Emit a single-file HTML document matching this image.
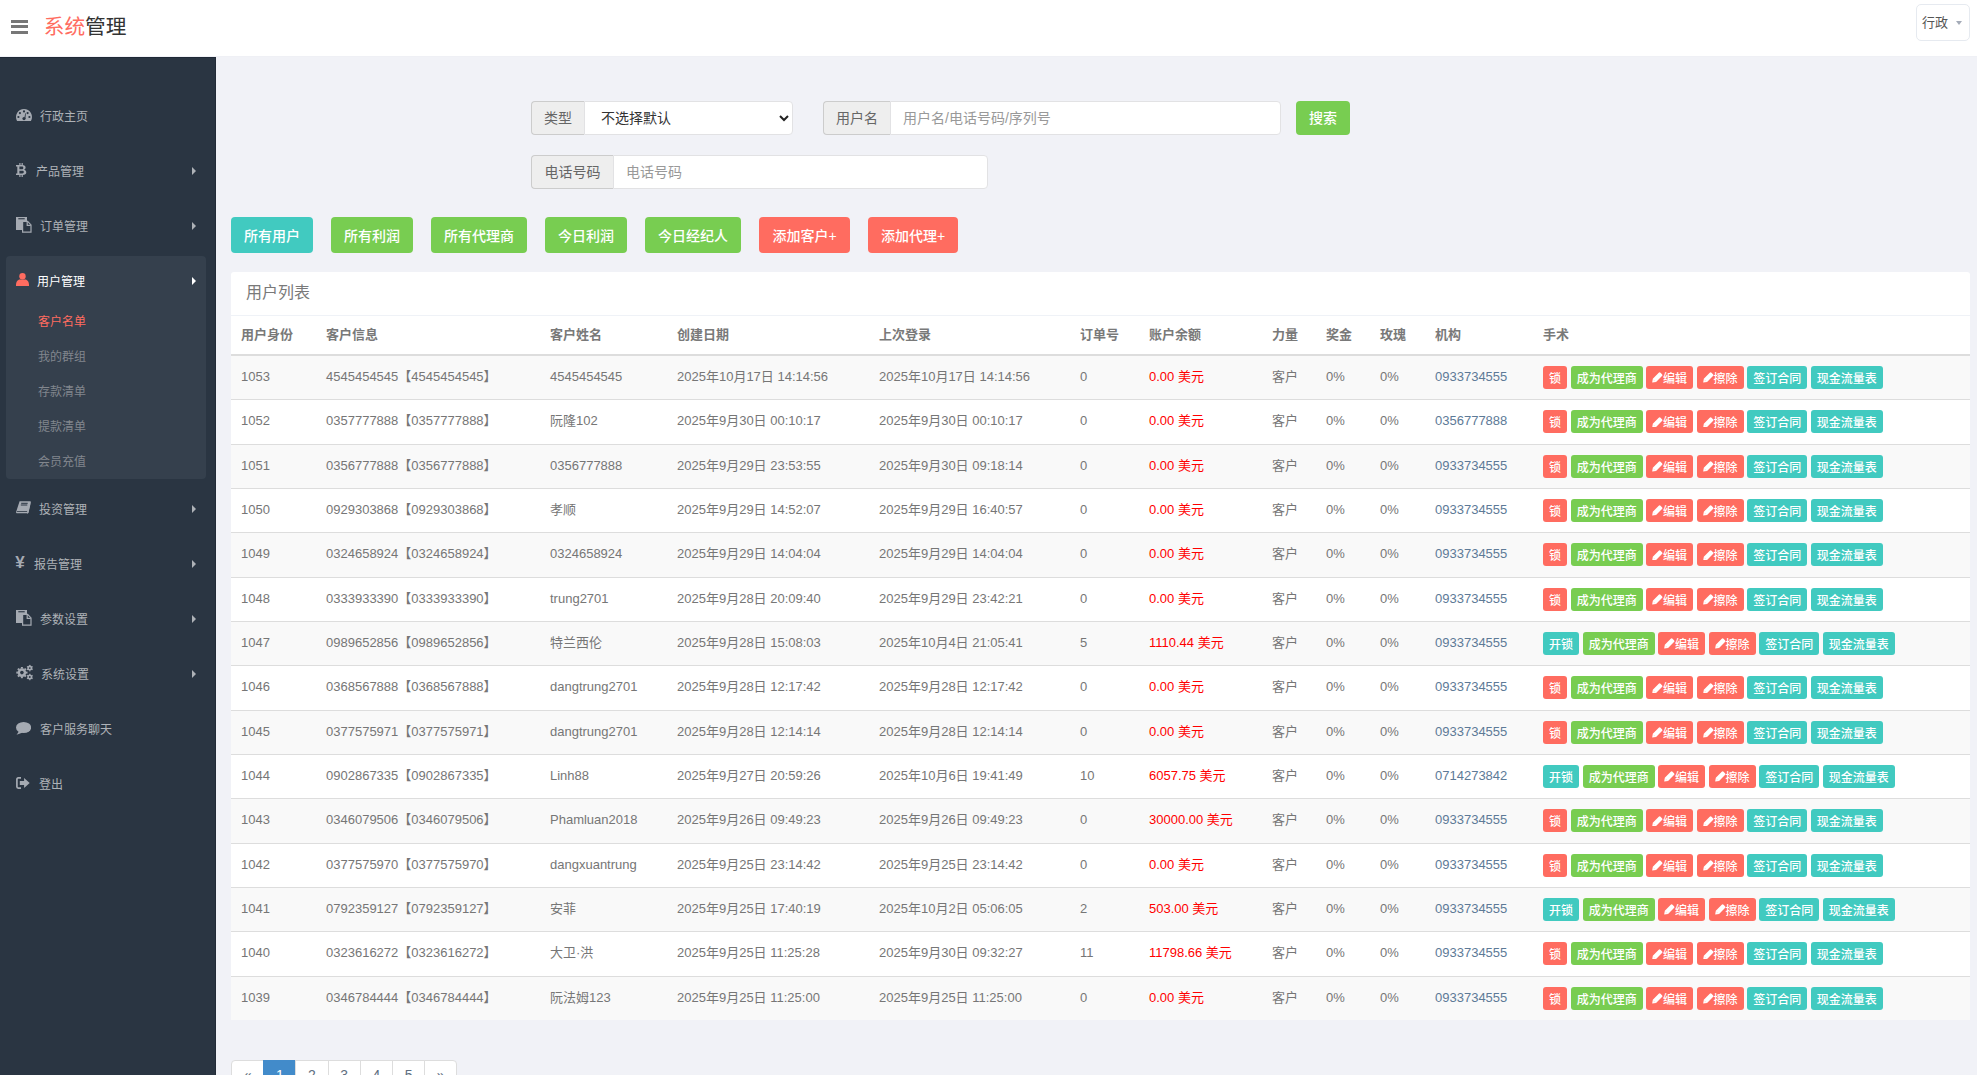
<!DOCTYPE html>
<html lang="zh-CN">
<head>
<meta charset="utf-8">
<title>系统管理</title>
<style>
*{box-sizing:border-box;margin:0;padding:0}
html,body{width:1977px;height:1075px;overflow:hidden}
body{position:relative;background:#f1f2f7;font-family:"Liberation Sans","Noto Sans CJK SC",sans-serif;font-size:13px;color:#797979}
#hd{position:absolute;left:0;top:0;width:1977px;height:56px;background:#fff}
#hdl{position:absolute;left:216px;top:56px;width:1761px;height:1px;background:#eff0f5}
.bar{position:absolute;left:11px;width:17px;height:3px;background:#777}
#logo{position:absolute;left:43.7px;top:12.8px;font-size:20.7px;line-height:28px;color:#333;white-space:nowrap}
#logo span{color:#ff6c60}
#usr{position:absolute;left:1916px;top:4px;width:54px;height:37px;border:1px solid #e6eaf0;border-radius:5px;background:#fff}
#usr .t{position:absolute;left:5px;top:9px;font-size:13px;line-height:18px;color:#555}
#usr .c{position:absolute;left:38.5px;top:16px;width:0;height:0;border-left:3.5px solid transparent;border-right:3.5px solid transparent;border-top:4px solid #a4abb8}

#sb{position:absolute;left:0;top:57px;width:216px;height:1018px;background:#2a3542;border-right:1px solid #222b37}
#sbt{position:absolute;left:0;top:57px;width:216px;height:1px;background:#1f2936}
#act{position:absolute;left:6px;top:256px;width:200px;height:223px;background:#35404d;border-radius:4px}
.it{position:absolute;left:0;width:216px;height:20px;line-height:20px;font-size:12px;color:#aeb2b7;white-space:nowrap}
.it .tx{position:absolute;top:0}
.ic{position:absolute}
.it .ar{position:absolute;left:192px;top:5px;width:0;height:0;border-top:4px solid transparent;border-bottom:4px solid transparent;border-left:4px solid #aeb2b7}
.sub{position:absolute;left:38px;height:20px;line-height:20px;font-size:12px;color:#81868d;white-space:nowrap}

.ig{position:absolute;height:34px}
.ig .ad{position:absolute;left:0;top:0;height:34px;border:1px solid #ccc;border-right:0;background:#eee;border-radius:4px 0 0 4px;font-size:14px;line-height:32px;color:#666;text-align:center}
.ig .fc{position:absolute;top:0;height:34px;border:1px solid #e2e2e4;background:#fff;border-radius:0 4px 4px 0;font-size:14px;line-height:32px;color:#333;padding-left:12px;white-space:nowrap}
.ig .ph{color:#999}
.btn{position:absolute;height:36px;line-height:34px;padding-top:2px;border-radius:4px;color:#fff;font-size:14px;font-weight:500;text-align:center;white-space:nowrap}
.g{background:#78cd51}.tq{background:#41cac0}.r{background:#ff6c60}

#pn{position:absolute;left:231px;top:272px;width:1739px;height:748px;background:#fff;border-radius:3px}
#ph{position:absolute;left:0;top:0;width:1739px;height:44px;border-bottom:1px solid #eff2f7;font-size:16px;line-height:24px;color:#797979;padding:9px 0 0 15px}
table{position:absolute;left:0;top:44px;width:1739px;border-collapse:collapse;table-layout:fixed}
th{height:39px;line-height:18px;text-align:left;font-weight:bold;font-size:13px;color:#797979;border-bottom:2px solid #ddd;padding:0 0 0 10px;vertical-align:middle;white-space:nowrap}
td{height:44.33px;line-height:18px;padding:0 0 1px 10px;border-top:1px solid #ddd;vertical-align:middle;white-space:nowrap;color:#767676;font-size:13px}
tbody tr:first-child td{border-top:0;height:44.8px}
tr.odd td{background:#f9f9f9}
td.red{color:#ff0000}
td.ac{padding-bottom:0}
td.lk{color:#5d7a97}
.b{display:inline-block;height:23px;line-height:18px;padding:3px 5px 0;border:1px solid transparent;border-radius:3px;color:#fff;font-size:12px;font-weight:500;vertical-align:middle}
.bd{background:#ff6c60}.bs{background:#78cd51}.bi{background:#41cac0}
.pc{display:inline-block;vertical-align:0px}

#pg{position:absolute;left:231px;top:1060px;height:40px;display:flex}
#pg div{width:33.2px;height:34px;border:1px solid #ddd;margin-left:-1px;background:#fff;text-align:center;line-height:28px;font-size:14px;color:#5e6e80}
#pg div:first-child{margin-left:0;border-radius:4px 0 0 4px}
#pg div:last-child{border-radius:0 4px 4px 0}
#pg div.on{background:#428bca;border-color:#428bca;color:#fff}
</style>
</head>
<body>
<div id="hd">
  <div class="bar" style="top:20px"></div>
  <div class="bar" style="top:25.3px;height:2.8px"></div>
  <div class="bar" style="top:31px"></div>
  <div id="logo"><span>系统</span>管理</div>
  <div id="usr"><span class="t">行政</span><span class="c"></span></div>
</div>
<div id="hdl"></div>

<div id="sb"></div>
<div id="sbt"></div>
<div id="act"></div>

<!-- sidebar items -->
<svg class="ic" style="left:15.7px;top:108.9px" width="16" height="12" viewBox="0 0 16 12"><path d="M1.07 12A8 8 0 1 1 14.93 12Z" fill="#a5aab2"/><g fill="#2a3542"><circle cx="3.9" cy="4.1" r="1.1"/><circle cx="2.4" cy="8" r="1.1"/><circle cx="8" cy="2.4" r="1.1"/><circle cx="11.6" cy="4.1" r="1.1"/><circle cx="13.4" cy="8" r="1.1"/><path d="M8.3 9.6L9.3 4.2L9.9 4.3L9.3 9.8Z"/><circle cx="8" cy="9.6" r="1.6"/></g></svg>
<div class="it" style="top:107px"><span class="tx" style="left:40px">行政主页</span></div>
<svg class="ic" style="left:16px;top:163px" width="11" height="14" viewBox="0 0 11 14"><path fill-rule="evenodd" fill="#a5aab2" d="M0 2h6.4c2 0 3.2 1 3.2 2.6 0 1-.6 1.8-1.5 2.1 1.3.3 2.2 1.2 2.2 2.6 0 1.8-1.4 2.8-3.5 2.8H0v-1.5h1.3V3.5H0z M3.4 3.6h2.5c.9 0 1.4.5 1.4 1.3s-.5 1.3-1.4 1.3H3.4z M3.4 7.7h2.9c1 0 1.5.5 1.5 1.4s-.5 1.4-1.5 1.4H3.4z"/><path d="M3.3 0h1.2v2.2H3.3zM5.6 0h1.2v2.2H5.6zM3.3 11.8h1.2V14H3.3zM5.6 11.8h1.2V14H5.6z" fill="#a5aab2"/></svg>
<div class="it" style="top:162px"><span class="tx" style="left:36px">产品管理</span><span class="ar"></span></div>
<svg class="ic" style="left:15.7px;top:216.9px" width="16" height="16" viewBox="0 0 16 16"><path d="M0 0h11v13h-11z" fill="#a5aab2"/><path d="M2.3 1.2h6.4v1.1h-6.4z" fill="#2a3542"/><path d="M6.6 4.4h5l3.4 3.5v7.3h-8.4z" fill="#2a3542" stroke="#a5aab2" stroke-width="1.2"/><path d="M11.2 4.6v3.8h3.6" fill="none" stroke="#a5aab2" stroke-width="1.2"/></svg>
<div class="it" style="top:217px"><span class="tx" style="left:40px">订单管理</span><span class="ar"></span></div>
<svg class="ic" style="left:16px;top:273px" width="13" height="13" viewBox="0 0 13 13"><circle cx="6.5" cy="3.3" r="3.2" fill="#ff6c60"/><path d="M0 12C0 8.6 1.8 6.4 3.8 6.4h5.4c2 0 3.8 2.2 3.8 5.6v1H0z" fill="#ff6c60"/></svg>
<div class="it" style="top:272px;color:#fff"><span class="tx" style="left:37px">用户管理</span><span class="ar" style="border-left-color:#fff"></span></div>
<div class="sub" style="top:312px;color:#ff6c60">客户名单</div>
<div class="sub" style="top:347px">我的群组</div>
<div class="sub" style="top:382px">存款清单</div>
<div class="sub" style="top:417px">提款清单</div>
<div class="sub" style="top:452px">会员充值</div>
<svg class="ic" style="left:16px;top:501px" width="15" height="13" viewBox="0 0 15 13"><path d="M3.6 0.3h10.6c.5 0 .8.4.7.9l-2.3 10.2c-.1.5-.5.8-1 .8H1.1c-.7 0-1.2-.6-1-1.3z" fill="#a5aab2"/><path d="M5.2 2.3h6.5M4.8 4h6.5" stroke="#2a3542" stroke-width="1"/><path d="M0.9 10.5h10.3" stroke="#2a3542" stroke-width="0.8"/><path d="M13.9 2.5l-2.3 10" stroke="#a5aab2" stroke-width="1"/></svg>
<div class="it" style="top:500px"><span class="tx" style="left:39px">投资管理</span><span class="ar"></span></div>
<span class="ic" style="left:15.2px;top:553px;font:bold 17px/20px 'Liberation Sans',sans-serif;color:#a5aab2">&yen;</span>
<div class="it" style="top:555px"><span class="tx" style="left:34px">报告管理</span><span class="ar"></span></div>
<svg class="ic" style="left:15.7px;top:610px" width="16" height="16" viewBox="0 0 16 16"><path d="M0 0h11v13h-11z" fill="#a5aab2"/><path d="M2.3 1.2h6.4v1.1h-6.4z" fill="#2a3542"/><path d="M6.6 4.4h5l3.4 3.5v7.3h-8.4z" fill="#2a3542" stroke="#a5aab2" stroke-width="1.2"/><path d="M11.2 4.6v3.8h3.6" fill="none" stroke="#a5aab2" stroke-width="1.2"/></svg>
<div class="it" style="top:610px"><span class="tx" style="left:40px">参数设置</span><span class="ar"></span></div>
<svg class="ic" style="left:15.5px;top:664px" width="17" height="17" viewBox="0 0 17 17"><circle cx="5.9" cy="8.6" r="4.3" fill="#a5aab2"/><rect x="4.9" y="2.9999999999999996" width="2.0" height="1.6" fill="#a5aab2" transform="rotate(0.0 5.9 8.6)"/><rect x="4.9" y="2.9999999999999996" width="2.0" height="1.6" fill="#a5aab2" transform="rotate(45.0 5.9 8.6)"/><rect x="4.9" y="2.9999999999999996" width="2.0" height="1.6" fill="#a5aab2" transform="rotate(90.0 5.9 8.6)"/><rect x="4.9" y="2.9999999999999996" width="2.0" height="1.6" fill="#a5aab2" transform="rotate(135.0 5.9 8.6)"/><rect x="4.9" y="2.9999999999999996" width="2.0" height="1.6" fill="#a5aab2" transform="rotate(180.0 5.9 8.6)"/><rect x="4.9" y="2.9999999999999996" width="2.0" height="1.6" fill="#a5aab2" transform="rotate(225.0 5.9 8.6)"/><rect x="4.9" y="2.9999999999999996" width="2.0" height="1.6" fill="#a5aab2" transform="rotate(270.0 5.9 8.6)"/><rect x="4.9" y="2.9999999999999996" width="2.0" height="1.6" fill="#a5aab2" transform="rotate(315.0 5.9 8.6)"/><circle cx="5.9" cy="8.6" r="1.8" fill="#2a3542"/><circle cx="13.8" cy="4.1" r="2.5" fill="#a5aab2"/><rect x="13.100000000000001" y="0.8999999999999997" width="1.4" height="1.0" fill="#a5aab2" transform="rotate(0.0 13.8 4.1)"/><rect x="13.100000000000001" y="0.8999999999999997" width="1.4" height="1.0" fill="#a5aab2" transform="rotate(60.0 13.8 4.1)"/><rect x="13.100000000000001" y="0.8999999999999997" width="1.4" height="1.0" fill="#a5aab2" transform="rotate(120.0 13.8 4.1)"/><rect x="13.100000000000001" y="0.8999999999999997" width="1.4" height="1.0" fill="#a5aab2" transform="rotate(180.0 13.8 4.1)"/><rect x="13.100000000000001" y="0.8999999999999997" width="1.4" height="1.0" fill="#a5aab2" transform="rotate(240.0 13.8 4.1)"/><rect x="13.100000000000001" y="0.8999999999999997" width="1.4" height="1.0" fill="#a5aab2" transform="rotate(300.0 13.8 4.1)"/><circle cx="13.8" cy="4.1" r="0.9" fill="#2a3542"/><circle cx="13.8" cy="13.0" r="2.5" fill="#a5aab2"/><rect x="13.100000000000001" y="9.8" width="1.4" height="1.0" fill="#a5aab2" transform="rotate(0.0 13.8 13.0)"/><rect x="13.100000000000001" y="9.8" width="1.4" height="1.0" fill="#a5aab2" transform="rotate(60.0 13.8 13.0)"/><rect x="13.100000000000001" y="9.8" width="1.4" height="1.0" fill="#a5aab2" transform="rotate(120.0 13.8 13.0)"/><rect x="13.100000000000001" y="9.8" width="1.4" height="1.0" fill="#a5aab2" transform="rotate(180.0 13.8 13.0)"/><rect x="13.100000000000001" y="9.8" width="1.4" height="1.0" fill="#a5aab2" transform="rotate(240.0 13.8 13.0)"/><rect x="13.100000000000001" y="9.8" width="1.4" height="1.0" fill="#a5aab2" transform="rotate(300.0 13.8 13.0)"/><circle cx="13.8" cy="13.0" r="0.9" fill="#2a3542"/></svg>
<div class="it" style="top:665px"><span class="tx" style="left:41px">系统设置</span><span class="ar"></span></div>
<svg class="ic" style="left:16px;top:722px" width="15.2" height="13" viewBox="0 0 15.2 13"><ellipse cx="7.6" cy="5.5" rx="7.6" ry="5.5" fill="#a5aab2"/><path d="M3 9.3L0.6 12.7L6.8 10.6z" fill="#a5aab2"/></svg>
<div class="it" style="top:720px"><span class="tx" style="left:40px">客户服务聊天</span></div>
<svg class="ic" style="left:16px;top:776.8px" width="14" height="12" viewBox="0 0 14 12"><path d="M5 0.9H2.2c-.8 0-1.3.5-1.3 1.3v7.6c0 .8.5 1.3 1.3 1.3H5" fill="none" stroke="#a5aab2" stroke-width="1.7"/><path d="M3.8 3.9h4.3V1.1l5.6 4.9-5.6 4.9V8.1H3.8z" fill="#a5aab2"/></svg>
<div class="it" style="top:775px"><span class="tx" style="left:39px">登出</span></div>

<!-- search form -->
<div class="ig" style="left:531px;top:101px;width:262px">
  <div class="ad" style="width:53px">类型</div>
  <div class="fc" style="left:53px;width:209px;padding-left:16px">不选择默认<svg style="position:absolute;right:3px;top:13px" width="10" height="7" viewBox="0 0 10 7"><path d="M1 1l4 4 4-4" fill="none" stroke="#222" stroke-width="2"/></svg></div>
</div>
<div class="ig" style="left:823px;top:101px;width:458px">
  <div class="ad" style="width:67px">用户名</div>
  <div class="fc ph" style="left:67px;width:391px">用户名/电话号码/序列号</div>
</div>
<div class="btn g" style="left:1296px;top:101px;width:54px;height:34px;line-height:34px;padding-top:0">搜索</div>
<div class="ig" style="left:531px;top:155px;width:457px">
  <div class="ad" style="width:82px">电话号码</div>
  <div class="fc ph" style="left:82px;width:375px">电话号码</div>
</div>

<div class="btn tq" style="left:231px;top:217px;width:82px">所有用户</div>
<div class="btn g" style="left:331px;top:217px;width:82px">所有利润</div>
<div class="btn g" style="left:431px;top:217px;width:96px">所有代理商</div>
<div class="btn g" style="left:545px;top:217px;width:82px">今日利润</div>
<div class="btn g" style="left:645px;top:217px;width:96px">今日经纪人</div>
<div class="btn r" style="left:759px;top:217px;width:91px">添加客户+</div>
<div class="btn r" style="left:868px;top:217px;width:90px">添加代理+</div>

<div id="pn">
  <div id="ph">用户列表</div>
  <table>
    <colgroup><col style="width:85px"><col style="width:224px"><col style="width:127px"><col style="width:202px"><col style="width:201px"><col style="width:69px"><col style="width:123px"><col style="width:54px"><col style="width:54px"><col style="width:55px"><col style="width:108px"><col></colgroup>
    <thead><tr><th>用户身份</th><th>客户信息</th><th>客户姓名</th><th>创建日期</th><th>上次登录</th><th>订单号</th><th>账户余额</th><th>力量</th><th>奖金</th><th>玫瑰</th><th>机构</th><th>手术</th></tr></thead>
    <tbody>
<tr class="odd"><td>1053</td><td>4545454545【4545454545】</td><td>4545454545</td><td>2025年10月17日 14:14:56</td><td>2025年10月17日 14:14:56</td><td>0</td><td class="red">0.00 美元</td><td>客户</td><td>0%</td><td>0%</td><td class="lk">0933734555</td><td class="ac"><span class="b bd">锁</span> <span class="b bs">成为代理商</span> <span class="b bd e"><svg class="pc" viewBox="0 0 12 12" width="10.8" height="10.8"><path d="M0.2 11.8L0.9 7.5L7.5 0.9Q8.5 -0.1 9.5 0.9L11.1 2.5Q12.1 3.5 11.1 4.5L4.5 11.1Z" fill="#fff"/><path d="M1.6 8.6L3.4 10.4" stroke="#ff6c60" stroke-width="0.5" opacity="0.5"/></svg>编辑</span> <span class="b bd e"><svg class="pc" viewBox="0 0 12 12" width="10.8" height="10.8"><path d="M0.2 11.8L0.9 7.5L7.5 0.9Q8.5 -0.1 9.5 0.9L11.1 2.5Q12.1 3.5 11.1 4.5L4.5 11.1Z" fill="#fff"/><path d="M1.6 8.6L3.4 10.4" stroke="#ff6c60" stroke-width="0.5" opacity="0.5"/></svg>擦除</span> <span class="b bi">签订合同</span> <span class="b bi">现金流量表</span></td></tr>
<tr><td>1052</td><td>0357777888【0357777888】</td><td>阮隆102</td><td>2025年9月30日 00:10:17</td><td>2025年9月30日 00:10:17</td><td>0</td><td class="red">0.00 美元</td><td>客户</td><td>0%</td><td>0%</td><td class="lk">0356777888</td><td class="ac"><span class="b bd">锁</span> <span class="b bs">成为代理商</span> <span class="b bd e"><svg class="pc" viewBox="0 0 12 12" width="10.8" height="10.8"><path d="M0.2 11.8L0.9 7.5L7.5 0.9Q8.5 -0.1 9.5 0.9L11.1 2.5Q12.1 3.5 11.1 4.5L4.5 11.1Z" fill="#fff"/><path d="M1.6 8.6L3.4 10.4" stroke="#ff6c60" stroke-width="0.5" opacity="0.5"/></svg>编辑</span> <span class="b bd e"><svg class="pc" viewBox="0 0 12 12" width="10.8" height="10.8"><path d="M0.2 11.8L0.9 7.5L7.5 0.9Q8.5 -0.1 9.5 0.9L11.1 2.5Q12.1 3.5 11.1 4.5L4.5 11.1Z" fill="#fff"/><path d="M1.6 8.6L3.4 10.4" stroke="#ff6c60" stroke-width="0.5" opacity="0.5"/></svg>擦除</span> <span class="b bi">签订合同</span> <span class="b bi">现金流量表</span></td></tr>
<tr class="odd"><td>1051</td><td>0356777888【0356777888】</td><td>0356777888</td><td>2025年9月29日 23:53:55</td><td>2025年9月30日 09:18:14</td><td>0</td><td class="red">0.00 美元</td><td>客户</td><td>0%</td><td>0%</td><td class="lk">0933734555</td><td class="ac"><span class="b bd">锁</span> <span class="b bs">成为代理商</span> <span class="b bd e"><svg class="pc" viewBox="0 0 12 12" width="10.8" height="10.8"><path d="M0.2 11.8L0.9 7.5L7.5 0.9Q8.5 -0.1 9.5 0.9L11.1 2.5Q12.1 3.5 11.1 4.5L4.5 11.1Z" fill="#fff"/><path d="M1.6 8.6L3.4 10.4" stroke="#ff6c60" stroke-width="0.5" opacity="0.5"/></svg>编辑</span> <span class="b bd e"><svg class="pc" viewBox="0 0 12 12" width="10.8" height="10.8"><path d="M0.2 11.8L0.9 7.5L7.5 0.9Q8.5 -0.1 9.5 0.9L11.1 2.5Q12.1 3.5 11.1 4.5L4.5 11.1Z" fill="#fff"/><path d="M1.6 8.6L3.4 10.4" stroke="#ff6c60" stroke-width="0.5" opacity="0.5"/></svg>擦除</span> <span class="b bi">签订合同</span> <span class="b bi">现金流量表</span></td></tr>
<tr><td>1050</td><td>0929303868【0929303868】</td><td>孝顺</td><td>2025年9月29日 14:52:07</td><td>2025年9月29日 16:40:57</td><td>0</td><td class="red">0.00 美元</td><td>客户</td><td>0%</td><td>0%</td><td class="lk">0933734555</td><td class="ac"><span class="b bd">锁</span> <span class="b bs">成为代理商</span> <span class="b bd e"><svg class="pc" viewBox="0 0 12 12" width="10.8" height="10.8"><path d="M0.2 11.8L0.9 7.5L7.5 0.9Q8.5 -0.1 9.5 0.9L11.1 2.5Q12.1 3.5 11.1 4.5L4.5 11.1Z" fill="#fff"/><path d="M1.6 8.6L3.4 10.4" stroke="#ff6c60" stroke-width="0.5" opacity="0.5"/></svg>编辑</span> <span class="b bd e"><svg class="pc" viewBox="0 0 12 12" width="10.8" height="10.8"><path d="M0.2 11.8L0.9 7.5L7.5 0.9Q8.5 -0.1 9.5 0.9L11.1 2.5Q12.1 3.5 11.1 4.5L4.5 11.1Z" fill="#fff"/><path d="M1.6 8.6L3.4 10.4" stroke="#ff6c60" stroke-width="0.5" opacity="0.5"/></svg>擦除</span> <span class="b bi">签订合同</span> <span class="b bi">现金流量表</span></td></tr>
<tr class="odd"><td>1049</td><td>0324658924【0324658924】</td><td>0324658924</td><td>2025年9月29日 14:04:04</td><td>2025年9月29日 14:04:04</td><td>0</td><td class="red">0.00 美元</td><td>客户</td><td>0%</td><td>0%</td><td class="lk">0933734555</td><td class="ac"><span class="b bd">锁</span> <span class="b bs">成为代理商</span> <span class="b bd e"><svg class="pc" viewBox="0 0 12 12" width="10.8" height="10.8"><path d="M0.2 11.8L0.9 7.5L7.5 0.9Q8.5 -0.1 9.5 0.9L11.1 2.5Q12.1 3.5 11.1 4.5L4.5 11.1Z" fill="#fff"/><path d="M1.6 8.6L3.4 10.4" stroke="#ff6c60" stroke-width="0.5" opacity="0.5"/></svg>编辑</span> <span class="b bd e"><svg class="pc" viewBox="0 0 12 12" width="10.8" height="10.8"><path d="M0.2 11.8L0.9 7.5L7.5 0.9Q8.5 -0.1 9.5 0.9L11.1 2.5Q12.1 3.5 11.1 4.5L4.5 11.1Z" fill="#fff"/><path d="M1.6 8.6L3.4 10.4" stroke="#ff6c60" stroke-width="0.5" opacity="0.5"/></svg>擦除</span> <span class="b bi">签订合同</span> <span class="b bi">现金流量表</span></td></tr>
<tr><td>1048</td><td>0333933390【0333933390】</td><td>trung2701</td><td>2025年9月28日 20:09:40</td><td>2025年9月29日 23:42:21</td><td>0</td><td class="red">0.00 美元</td><td>客户</td><td>0%</td><td>0%</td><td class="lk">0933734555</td><td class="ac"><span class="b bd">锁</span> <span class="b bs">成为代理商</span> <span class="b bd e"><svg class="pc" viewBox="0 0 12 12" width="10.8" height="10.8"><path d="M0.2 11.8L0.9 7.5L7.5 0.9Q8.5 -0.1 9.5 0.9L11.1 2.5Q12.1 3.5 11.1 4.5L4.5 11.1Z" fill="#fff"/><path d="M1.6 8.6L3.4 10.4" stroke="#ff6c60" stroke-width="0.5" opacity="0.5"/></svg>编辑</span> <span class="b bd e"><svg class="pc" viewBox="0 0 12 12" width="10.8" height="10.8"><path d="M0.2 11.8L0.9 7.5L7.5 0.9Q8.5 -0.1 9.5 0.9L11.1 2.5Q12.1 3.5 11.1 4.5L4.5 11.1Z" fill="#fff"/><path d="M1.6 8.6L3.4 10.4" stroke="#ff6c60" stroke-width="0.5" opacity="0.5"/></svg>擦除</span> <span class="b bi">签订合同</span> <span class="b bi">现金流量表</span></td></tr>
<tr class="odd"><td>1047</td><td>0989652856【0989652856】</td><td>特兰西伦</td><td>2025年9月28日 15:08:03</td><td>2025年10月4日 21:05:41</td><td>5</td><td class="red">1110.44 美元</td><td>客户</td><td>0%</td><td>0%</td><td class="lk">0933734555</td><td class="ac"><span class="b bi">开锁</span> <span class="b bs">成为代理商</span> <span class="b bd e"><svg class="pc" viewBox="0 0 12 12" width="10.8" height="10.8"><path d="M0.2 11.8L0.9 7.5L7.5 0.9Q8.5 -0.1 9.5 0.9L11.1 2.5Q12.1 3.5 11.1 4.5L4.5 11.1Z" fill="#fff"/><path d="M1.6 8.6L3.4 10.4" stroke="#ff6c60" stroke-width="0.5" opacity="0.5"/></svg>编辑</span> <span class="b bd e"><svg class="pc" viewBox="0 0 12 12" width="10.8" height="10.8"><path d="M0.2 11.8L0.9 7.5L7.5 0.9Q8.5 -0.1 9.5 0.9L11.1 2.5Q12.1 3.5 11.1 4.5L4.5 11.1Z" fill="#fff"/><path d="M1.6 8.6L3.4 10.4" stroke="#ff6c60" stroke-width="0.5" opacity="0.5"/></svg>擦除</span> <span class="b bi">签订合同</span> <span class="b bi">现金流量表</span></td></tr>
<tr><td>1046</td><td>0368567888【0368567888】</td><td>dangtrung2701</td><td>2025年9月28日 12:17:42</td><td>2025年9月28日 12:17:42</td><td>0</td><td class="red">0.00 美元</td><td>客户</td><td>0%</td><td>0%</td><td class="lk">0933734555</td><td class="ac"><span class="b bd">锁</span> <span class="b bs">成为代理商</span> <span class="b bd e"><svg class="pc" viewBox="0 0 12 12" width="10.8" height="10.8"><path d="M0.2 11.8L0.9 7.5L7.5 0.9Q8.5 -0.1 9.5 0.9L11.1 2.5Q12.1 3.5 11.1 4.5L4.5 11.1Z" fill="#fff"/><path d="M1.6 8.6L3.4 10.4" stroke="#ff6c60" stroke-width="0.5" opacity="0.5"/></svg>编辑</span> <span class="b bd e"><svg class="pc" viewBox="0 0 12 12" width="10.8" height="10.8"><path d="M0.2 11.8L0.9 7.5L7.5 0.9Q8.5 -0.1 9.5 0.9L11.1 2.5Q12.1 3.5 11.1 4.5L4.5 11.1Z" fill="#fff"/><path d="M1.6 8.6L3.4 10.4" stroke="#ff6c60" stroke-width="0.5" opacity="0.5"/></svg>擦除</span> <span class="b bi">签订合同</span> <span class="b bi">现金流量表</span></td></tr>
<tr class="odd"><td>1045</td><td>0377575971【0377575971】</td><td>dangtrung2701</td><td>2025年9月28日 12:14:14</td><td>2025年9月28日 12:14:14</td><td>0</td><td class="red">0.00 美元</td><td>客户</td><td>0%</td><td>0%</td><td class="lk">0933734555</td><td class="ac"><span class="b bd">锁</span> <span class="b bs">成为代理商</span> <span class="b bd e"><svg class="pc" viewBox="0 0 12 12" width="10.8" height="10.8"><path d="M0.2 11.8L0.9 7.5L7.5 0.9Q8.5 -0.1 9.5 0.9L11.1 2.5Q12.1 3.5 11.1 4.5L4.5 11.1Z" fill="#fff"/><path d="M1.6 8.6L3.4 10.4" stroke="#ff6c60" stroke-width="0.5" opacity="0.5"/></svg>编辑</span> <span class="b bd e"><svg class="pc" viewBox="0 0 12 12" width="10.8" height="10.8"><path d="M0.2 11.8L0.9 7.5L7.5 0.9Q8.5 -0.1 9.5 0.9L11.1 2.5Q12.1 3.5 11.1 4.5L4.5 11.1Z" fill="#fff"/><path d="M1.6 8.6L3.4 10.4" stroke="#ff6c60" stroke-width="0.5" opacity="0.5"/></svg>擦除</span> <span class="b bi">签订合同</span> <span class="b bi">现金流量表</span></td></tr>
<tr><td>1044</td><td>0902867335【0902867335】</td><td>Linh88</td><td>2025年9月27日 20:59:26</td><td>2025年10月6日 19:41:49</td><td>10</td><td class="red">6057.75 美元</td><td>客户</td><td>0%</td><td>0%</td><td class="lk">0714273842</td><td class="ac"><span class="b bi">开锁</span> <span class="b bs">成为代理商</span> <span class="b bd e"><svg class="pc" viewBox="0 0 12 12" width="10.8" height="10.8"><path d="M0.2 11.8L0.9 7.5L7.5 0.9Q8.5 -0.1 9.5 0.9L11.1 2.5Q12.1 3.5 11.1 4.5L4.5 11.1Z" fill="#fff"/><path d="M1.6 8.6L3.4 10.4" stroke="#ff6c60" stroke-width="0.5" opacity="0.5"/></svg>编辑</span> <span class="b bd e"><svg class="pc" viewBox="0 0 12 12" width="10.8" height="10.8"><path d="M0.2 11.8L0.9 7.5L7.5 0.9Q8.5 -0.1 9.5 0.9L11.1 2.5Q12.1 3.5 11.1 4.5L4.5 11.1Z" fill="#fff"/><path d="M1.6 8.6L3.4 10.4" stroke="#ff6c60" stroke-width="0.5" opacity="0.5"/></svg>擦除</span> <span class="b bi">签订合同</span> <span class="b bi">现金流量表</span></td></tr>
<tr class="odd"><td>1043</td><td>0346079506【0346079506】</td><td>Phamluan2018</td><td>2025年9月26日 09:49:23</td><td>2025年9月26日 09:49:23</td><td>0</td><td class="red">30000.00 美元</td><td>客户</td><td>0%</td><td>0%</td><td class="lk">0933734555</td><td class="ac"><span class="b bd">锁</span> <span class="b bs">成为代理商</span> <span class="b bd e"><svg class="pc" viewBox="0 0 12 12" width="10.8" height="10.8"><path d="M0.2 11.8L0.9 7.5L7.5 0.9Q8.5 -0.1 9.5 0.9L11.1 2.5Q12.1 3.5 11.1 4.5L4.5 11.1Z" fill="#fff"/><path d="M1.6 8.6L3.4 10.4" stroke="#ff6c60" stroke-width="0.5" opacity="0.5"/></svg>编辑</span> <span class="b bd e"><svg class="pc" viewBox="0 0 12 12" width="10.8" height="10.8"><path d="M0.2 11.8L0.9 7.5L7.5 0.9Q8.5 -0.1 9.5 0.9L11.1 2.5Q12.1 3.5 11.1 4.5L4.5 11.1Z" fill="#fff"/><path d="M1.6 8.6L3.4 10.4" stroke="#ff6c60" stroke-width="0.5" opacity="0.5"/></svg>擦除</span> <span class="b bi">签订合同</span> <span class="b bi">现金流量表</span></td></tr>
<tr><td>1042</td><td>0377575970【0377575970】</td><td>dangxuantrung</td><td>2025年9月25日 23:14:42</td><td>2025年9月25日 23:14:42</td><td>0</td><td class="red">0.00 美元</td><td>客户</td><td>0%</td><td>0%</td><td class="lk">0933734555</td><td class="ac"><span class="b bd">锁</span> <span class="b bs">成为代理商</span> <span class="b bd e"><svg class="pc" viewBox="0 0 12 12" width="10.8" height="10.8"><path d="M0.2 11.8L0.9 7.5L7.5 0.9Q8.5 -0.1 9.5 0.9L11.1 2.5Q12.1 3.5 11.1 4.5L4.5 11.1Z" fill="#fff"/><path d="M1.6 8.6L3.4 10.4" stroke="#ff6c60" stroke-width="0.5" opacity="0.5"/></svg>编辑</span> <span class="b bd e"><svg class="pc" viewBox="0 0 12 12" width="10.8" height="10.8"><path d="M0.2 11.8L0.9 7.5L7.5 0.9Q8.5 -0.1 9.5 0.9L11.1 2.5Q12.1 3.5 11.1 4.5L4.5 11.1Z" fill="#fff"/><path d="M1.6 8.6L3.4 10.4" stroke="#ff6c60" stroke-width="0.5" opacity="0.5"/></svg>擦除</span> <span class="b bi">签订合同</span> <span class="b bi">现金流量表</span></td></tr>
<tr class="odd"><td>1041</td><td>0792359127【0792359127】</td><td>安菲</td><td>2025年9月25日 17:40:19</td><td>2025年10月2日 05:06:05</td><td>2</td><td class="red">503.00 美元</td><td>客户</td><td>0%</td><td>0%</td><td class="lk">0933734555</td><td class="ac"><span class="b bi">开锁</span> <span class="b bs">成为代理商</span> <span class="b bd e"><svg class="pc" viewBox="0 0 12 12" width="10.8" height="10.8"><path d="M0.2 11.8L0.9 7.5L7.5 0.9Q8.5 -0.1 9.5 0.9L11.1 2.5Q12.1 3.5 11.1 4.5L4.5 11.1Z" fill="#fff"/><path d="M1.6 8.6L3.4 10.4" stroke="#ff6c60" stroke-width="0.5" opacity="0.5"/></svg>编辑</span> <span class="b bd e"><svg class="pc" viewBox="0 0 12 12" width="10.8" height="10.8"><path d="M0.2 11.8L0.9 7.5L7.5 0.9Q8.5 -0.1 9.5 0.9L11.1 2.5Q12.1 3.5 11.1 4.5L4.5 11.1Z" fill="#fff"/><path d="M1.6 8.6L3.4 10.4" stroke="#ff6c60" stroke-width="0.5" opacity="0.5"/></svg>擦除</span> <span class="b bi">签订合同</span> <span class="b bi">现金流量表</span></td></tr>
<tr><td>1040</td><td>0323616272【0323616272】</td><td>大卫·洪</td><td>2025年9月25日 11:25:28</td><td>2025年9月30日 09:32:27</td><td>11</td><td class="red">11798.66 美元</td><td>客户</td><td>0%</td><td>0%</td><td class="lk">0933734555</td><td class="ac"><span class="b bd">锁</span> <span class="b bs">成为代理商</span> <span class="b bd e"><svg class="pc" viewBox="0 0 12 12" width="10.8" height="10.8"><path d="M0.2 11.8L0.9 7.5L7.5 0.9Q8.5 -0.1 9.5 0.9L11.1 2.5Q12.1 3.5 11.1 4.5L4.5 11.1Z" fill="#fff"/><path d="M1.6 8.6L3.4 10.4" stroke="#ff6c60" stroke-width="0.5" opacity="0.5"/></svg>编辑</span> <span class="b bd e"><svg class="pc" viewBox="0 0 12 12" width="10.8" height="10.8"><path d="M0.2 11.8L0.9 7.5L7.5 0.9Q8.5 -0.1 9.5 0.9L11.1 2.5Q12.1 3.5 11.1 4.5L4.5 11.1Z" fill="#fff"/><path d="M1.6 8.6L3.4 10.4" stroke="#ff6c60" stroke-width="0.5" opacity="0.5"/></svg>擦除</span> <span class="b bi">签订合同</span> <span class="b bi">现金流量表</span></td></tr>
<tr class="odd"><td>1039</td><td>0346784444【0346784444】</td><td>阮法姆123</td><td>2025年9月25日 11:25:00</td><td>2025年9月25日 11:25:00</td><td>0</td><td class="red">0.00 美元</td><td>客户</td><td>0%</td><td>0%</td><td class="lk">0933734555</td><td class="ac"><span class="b bd">锁</span> <span class="b bs">成为代理商</span> <span class="b bd e"><svg class="pc" viewBox="0 0 12 12" width="10.8" height="10.8"><path d="M0.2 11.8L0.9 7.5L7.5 0.9Q8.5 -0.1 9.5 0.9L11.1 2.5Q12.1 3.5 11.1 4.5L4.5 11.1Z" fill="#fff"/><path d="M1.6 8.6L3.4 10.4" stroke="#ff6c60" stroke-width="0.5" opacity="0.5"/></svg>编辑</span> <span class="b bd e"><svg class="pc" viewBox="0 0 12 12" width="10.8" height="10.8"><path d="M0.2 11.8L0.9 7.5L7.5 0.9Q8.5 -0.1 9.5 0.9L11.1 2.5Q12.1 3.5 11.1 4.5L4.5 11.1Z" fill="#fff"/><path d="M1.6 8.6L3.4 10.4" stroke="#ff6c60" stroke-width="0.5" opacity="0.5"/></svg>擦除</span> <span class="b bi">签订合同</span> <span class="b bi">现金流量表</span></td></tr>
    </tbody>
  </table>
</div>

<div id="pg"><div>&laquo;</div><div class="on">1</div><div>2</div><div>3</div><div>4</div><div>5</div><div>&raquo;</div></div>
</body>
</html>
